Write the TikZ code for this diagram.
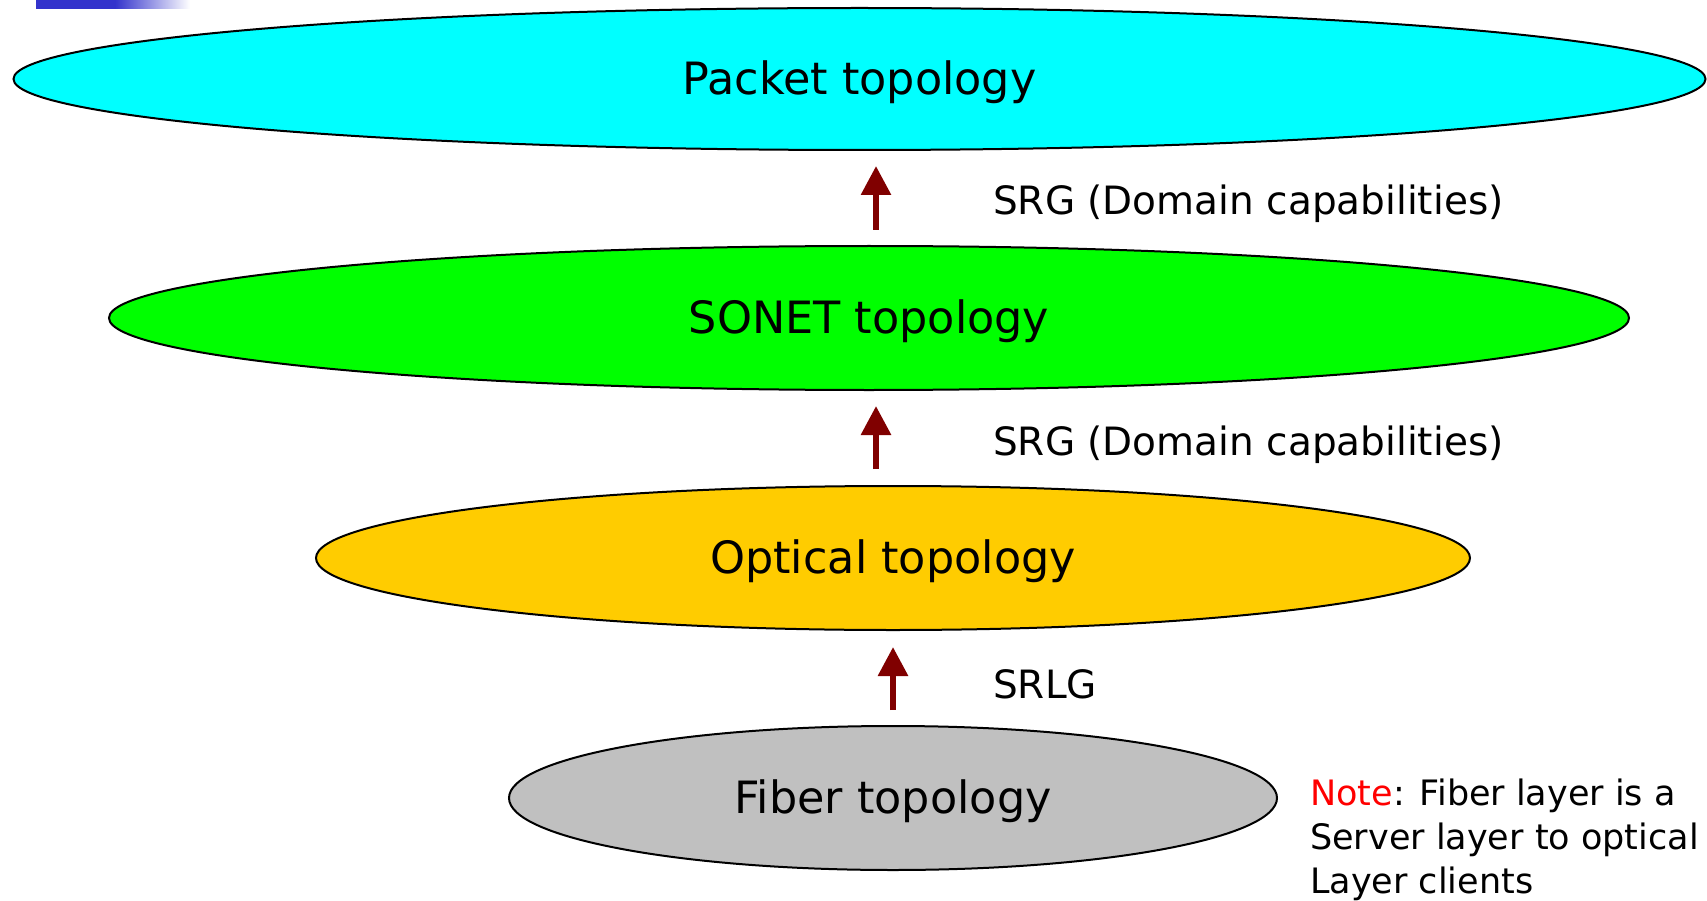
\documentclass[tikz,border=0pt]{standalone}
\usepackage{fontspec}
\setmainfont{DejaVu Sans}
\usetikzlibrary{arrows.meta}
\definecolor{pktcol}{HTML}{00FFFF}
\definecolor{soncol}{HTML}{00FF00}
\definecolor{optcol}{HTML}{FFCC00}
\definecolor{fibcol}{HTML}{C0C0C0}
\definecolor{arrcol}{HTML}{800000}
\definecolor{barcol}{HTML}{3333CC}
\definecolor{notecol}{HTML}{FF0000}
\tikzset{
  ttl/.style={font=\fontsize{44.5}{53}\selectfont},
  lbl/.style={font=\fontsize{39}{47}\selectfont, anchor=west, inner sep=0pt},
  uparrow/.style={draw=arrcol, line width=6pt, -{Triangle[length=29pt,width=29pt]}},
  layerfill/.style={draw=black, line width=2pt},
}
\begin{document}
\begin{tikzpicture}[x=1pt,y=-1pt]
\useasboundingbox (0,0) rectangle (1707,901);
% top-left bar
\fill[barcol] (36,0) rectangle (115,9);
\shade[left color=barcol, right color=white] (115,0) rectangle (190,9);
% ellipses
\fill[pktcol, layerfill] (859.5,79) ellipse [x radius=846, y radius=71];
\node[ttl] (packet) at (859.5,82) {Packet topology};
\fill[soncol, layerfill] (869,318) ellipse [x radius=760, y radius=72];
\node[ttl] (sonet) at (869,321) {SONET topology};
\fill[optcol, layerfill] (893,558) ellipse [x radius=577, y radius=72];
\node[ttl] (optical) at (893,561) {Optical topology};
\fill[fibcol, layerfill] (893,798) ellipse [x radius=384, y radius=72];
\node[ttl] (fiber) at (893,801) {Fiber topology};
% arrows
\coordinate (a1s) at (876,230); \coordinate (a1e) at (876,166);
\coordinate (a2s) at (876,469); \coordinate (a2e) at (876,406);
\coordinate (a3s) at (893,710); \coordinate (a3e) at (893,647);
\draw[uparrow] (a1s) -- (a1e);
\draw[uparrow] (a2s) -- (a2e);
\draw[uparrow] (a3s) -- (a3e);
% labels
\node[lbl] (l1) at (993,204) {SRG (Domain capabilities)};
\node[lbl] (l2) at (993,445) {SRG (Domain capabilities)};
\node[lbl] (l3) at (993,684) {SRLG};
% note
\node[anchor=base west, inner sep=0pt, align=left, font=\fontsize{35}{44}\selectfont] (note) at (1310,893)
  {{\color{notecol}Note}: Fiber layer is a\\Server layer to optical\\Layer clients};
\end{tikzpicture}
\end{document}
